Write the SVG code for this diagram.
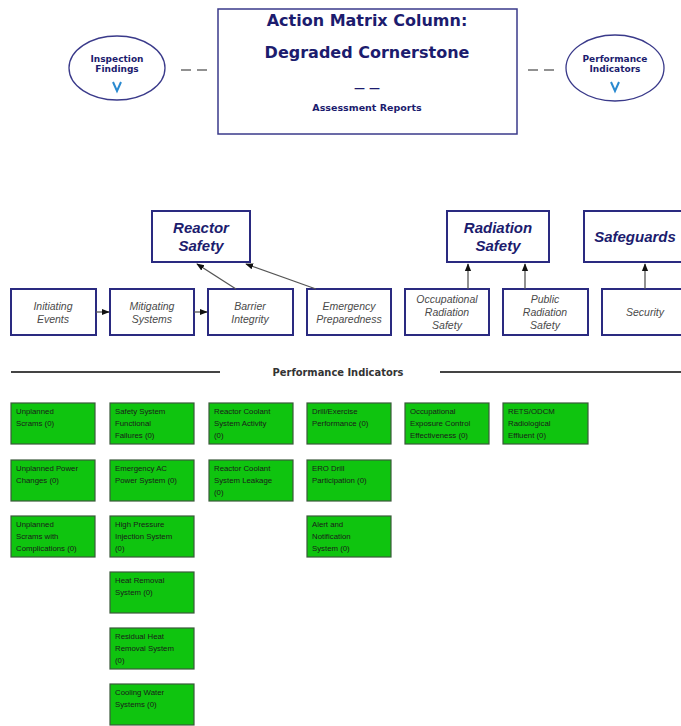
<svg xmlns="http://www.w3.org/2000/svg" width="681" height="726" viewBox="0 0 681 726">
<style>
.nav{fill:none;stroke:#2a2a80;stroke-width:2}
.title{font-family:"DejaVu Sans",sans-serif;font-weight:bold;fill:#1c1c6e;text-anchor:middle}
.cs{font-family:"Liberation Sans",Arial,sans-serif;font-weight:bold;font-style:italic;fill:#1c1c6e;font-size:15px;text-anchor:middle}
.sub{font-family:"Liberation Sans",Arial,sans-serif;font-style:italic;fill:#4a4a4a;font-size:10.5px;text-anchor:middle}
.pi rect{fill:#0fc40f;stroke:#3a5a3a;stroke-width:1.2}
.pi text{font-family:"Liberation Sans",Arial,sans-serif;font-size:7.8px;fill:#1a1a1a}
.con{stroke:#555;stroke-width:1.3;fill:none}
</style>
<defs>
<marker id="ah" viewBox="0 0 10 10" refX="9" refY="5" markerWidth="6" markerHeight="6" orient="auto">
<path d="M0,1 L10,5 L0,9 z" fill="#111"/>
</marker>
</defs>
<rect width="681" height="726" fill="#fff"/>

<g id="action-matrix">
<rect x="218" y="9" width="299" height="125" fill="#fff" stroke="#3a3a8a" stroke-width="1.5"/>
<text class="title" x="367" y="26" font-size="16">Action Matrix Column:</text>
<text class="title" x="367" y="58" font-size="16">Degraded Cornerstone</text>
<text class="title" x="367" y="92" font-size="11" fill="#333">— —</text>
<text class="title" x="367" y="111" font-size="9.5">Assessment Reports</text>
</g>

<g id="inspection-findings">
<ellipse cx="117" cy="68" rx="48" ry="32" fill="#fff" stroke="#3a3a8a" stroke-width="1.3"/>
<text class="title" x="117" y="62" font-size="9" font-family="DejaVu Sans Condensed">Inspection</text>
<text class="title" x="117" y="72" font-size="9" font-family="DejaVu Sans Condensed">Findings</text>
<path d="M113,82 L117,91 L121,82" fill="none" stroke="#2a8ad0" stroke-width="2"/>
</g>

<g id="performance-indicators-top">
<ellipse cx="615" cy="68" rx="49" ry="33" fill="#fff" stroke="#3a3a8a" stroke-width="1.3"/>
<text class="title" x="615" y="62" font-size="9" font-family="DejaVu Sans Condensed">Performance</text>
<text class="title" x="615" y="72" font-size="9" font-family="DejaVu Sans Condensed">Indicators</text>
<path d="M611,82 L615,91 L619,82" fill="none" stroke="#2a8ad0" stroke-width="2"/>
</g>

<g id="dashes" stroke="#555" stroke-width="1.3">
<line x1="181" y1="70" x2="191" y2="70"/><line x1="197" y1="70" x2="207" y2="70"/>
<line x1="528" y1="70" x2="538" y2="70"/><line x1="544" y1="70" x2="554" y2="70"/>
</g>

<g id="reactor-safety"><rect class="nav" x="152" y="211" width="98" height="51" fill="#fff"/>
<text class="cs" x="201" y="233">Reactor</text><text class="cs" x="201" y="251">Safety</text></g>
<g id="radiation-safety"><rect class="nav" x="447" y="211" width="102" height="51"/>
<text class="cs" x="498" y="233">Radiation</text><text class="cs" x="498" y="251">Safety</text></g>
<g id="safeguards"><rect class="nav" x="584" y="211" width="104" height="51"/>
<text class="cs" x="635" y="242">Safeguards</text></g>

<g id="initiating-events"><rect class="nav" x="11" y="289" width="85" height="46"/>
<text class="sub" x="53" y="310">Initiating</text><text class="sub" x="53" y="323">Events</text></g>
<g id="mitigating-systems"><rect class="nav" x="110" y="289" width="84" height="46"/>
<text class="sub" x="152" y="310">Mitigating</text><text class="sub" x="152" y="323">Systems</text></g>
<g id="barrier-integrity"><rect class="nav" x="208" y="289" width="85" height="46"/>
<text class="sub" x="250" y="310">Barrier</text><text class="sub" x="250" y="323">Integrity</text></g>
<g id="emergency-preparedness"><rect class="nav" x="307" y="289" width="84" height="46"/>
<text class="sub" x="349" y="310">Emergency</text><text class="sub" x="349" y="323">Preparedness</text></g>
<g id="occupational-radiation-safety"><rect class="nav" x="405" y="289" width="84" height="46"/>
<text class="sub" x="447" y="303">Occupational</text><text class="sub" x="447" y="316">Radiation</text><text class="sub" x="447" y="329">Safety</text></g>
<g id="public-radiation-safety"><rect class="nav" x="503" y="289" width="85" height="46"/>
<text class="sub" x="545" y="303">Public</text><text class="sub" x="545" y="316">Radiation</text><text class="sub" x="545" y="329">Safety</text></g>
<g id="security"><rect class="nav" x="602" y="289" width="85" height="46"/>
<text class="sub" x="645" y="316">Security</text></g>

<g id="connectors">
<line class="con" x1="96" y1="312" x2="109" y2="312" marker-end="url(#ah)"/>
<line class="con" x1="194" y1="312" x2="207" y2="312" marker-end="url(#ah)"/>
<line class="con" x1="236" y1="289" x2="197" y2="264" marker-end="url(#ah)"/>
<line class="con" x1="316" y1="289" x2="246" y2="264" marker-end="url(#ah)"/>
<line class="con" x1="468" y1="289" x2="468" y2="264" marker-end="url(#ah)"/>
<line class="con" x1="525" y1="289" x2="525" y2="264" marker-end="url(#ah)"/>
<line class="con" x1="645" y1="289" x2="645" y2="264" marker-end="url(#ah)"/>
</g>

<g id="pi-header">
<line x1="11" y1="372" x2="220" y2="372" stroke="#444" stroke-width="2"/>
<line x1="440" y1="372" x2="681" y2="372" stroke="#444" stroke-width="2"/>
<text x="338" y="376" text-anchor="middle" font-family="DejaVu Sans Condensed,sans-serif" font-weight="bold" font-size="11" fill="#333">Performance Indicators</text>
</g>

<g class="pi">
<g id="pi-unplanned-scrams"><rect x="11" y="403" width="84" height="41"/><text x="16" y="414">Unplanned</text><text x="16" y="426">Scrams (0)</text></g>
<g id="pi-unplanned-power-changes"><rect x="11" y="460" width="84" height="41"/><text x="16" y="471">Unplanned Power</text><text x="16" y="483">Changes (0)</text></g>
<g id="pi-unplanned-scrams-complications"><rect x="11" y="516" width="84" height="41"/><text x="16" y="527">Unplanned</text><text x="16" y="539">Scrams with</text><text x="16" y="551">Complications (0)</text></g>

<g id="pi-ssff"><rect x="110" y="403" width="84" height="41"/><text x="115" y="414">Safety System</text><text x="115" y="426">Functional</text><text x="115" y="438">Failures (0)</text></g>
<g id="pi-emergency-ac"><rect x="110" y="460" width="84" height="41"/><text x="115" y="471">Emergency AC</text><text x="115" y="483">Power System (0)</text></g>
<g id="pi-hpi"><rect x="110" y="516" width="84" height="41"/><text x="115" y="527">High Pressure</text><text x="115" y="539">Injection System</text><text x="115" y="551">(0)</text></g>
<g id="pi-heat-removal"><rect x="110" y="572" width="84" height="41"/><text x="115" y="583">Heat Removal</text><text x="115" y="595">System (0)</text></g>
<g id="pi-rhr"><rect x="110" y="628" width="84" height="41"/><text x="115" y="639">Residual Heat</text><text x="115" y="651">Removal System</text><text x="115" y="663">(0)</text></g>
<g id="pi-cooling-water"><rect x="110" y="684" width="84" height="41"/><text x="115" y="695">Cooling Water</text><text x="115" y="707">Systems (0)</text></g>

<g id="pi-rcs-activity"><rect x="209" y="403" width="84" height="41"/><text x="214" y="414">Reactor Coolant</text><text x="214" y="426">System Activity</text><text x="214" y="438">(0)</text></g>
<g id="pi-rcs-leakage"><rect x="209" y="460" width="84" height="41"/><text x="214" y="471">Reactor Coolant</text><text x="214" y="483">System Leakage</text><text x="214" y="495">(0)</text></g>

<g id="pi-drill"><rect x="307" y="403" width="84" height="41"/><text x="312" y="414">Drill/Exercise</text><text x="312" y="426">Performance (0)</text></g>
<g id="pi-ero"><rect x="307" y="460" width="84" height="41"/><text x="312" y="471">ERO Drill</text><text x="312" y="483">Participation (0)</text></g>
<g id="pi-alert"><rect x="307" y="516" width="84" height="41"/><text x="312" y="527">Alert and</text><text x="312" y="539">Notification</text><text x="312" y="551">System (0)</text></g>

<g id="pi-occupational"><rect x="405" y="403" width="84" height="41"/><text x="410" y="414">Occupational</text><text x="410" y="426">Exposure Control</text><text x="410" y="438">Effectiveness (0)</text></g>
<g id="pi-rets"><rect x="503" y="403" width="85" height="41"/><text x="508" y="414">RETS/ODCM</text><text x="508" y="426">Radiological</text><text x="508" y="438">Effluent (0)</text></g>
</g>
</svg>
